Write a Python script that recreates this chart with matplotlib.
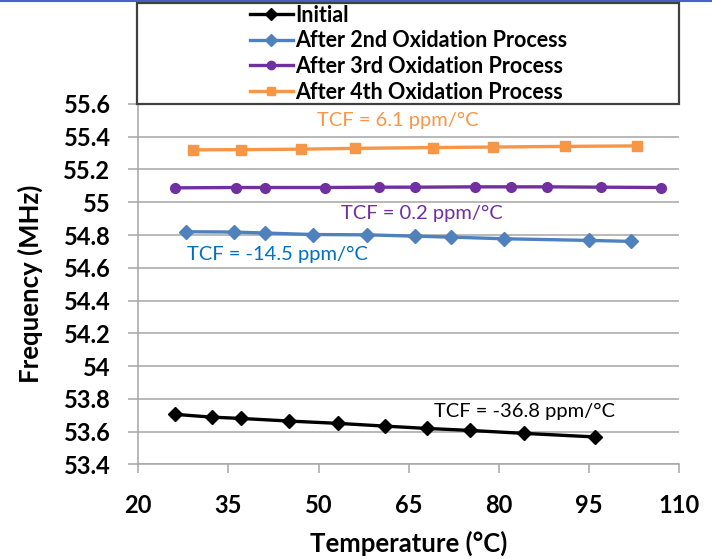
import matplotlib
matplotlib.use("Agg")
import matplotlib.pyplot as plt
from matplotlib.lines import Line2D
from matplotlib.patches import Rectangle

plt.rcParams['font.family'] = ['Lato', 'DejaVu Sans']

# Temperature sweeps (°C) and resonant frequency (MHz) for each stage
temp_initial = [26.1, 32.2, 37.1, 45.1, 53.2, 61.1, 68.0, 75.1, 84.1, 96.0]
freq_initial = [53.705, 53.688, 53.680, 53.664, 53.650, 53.633, 53.619, 53.607, 53.589, 53.567]

temp_ox2 = [28.0, 36.0, 41.1, 49.0, 58.1, 66.0, 72.0, 80.9, 94.9, 102.0]
freq_ox2 = [54.820, 54.818, 54.812, 54.803, 54.801, 54.793, 54.787, 54.777, 54.767, 54.761]

temp_ox3 = [26.1, 36.2, 41.1, 51.0, 60.1, 66.0, 76.0, 82.0, 88.0, 96.9, 107.0]
freq_ox3 = [55.088, 55.090, 55.090, 55.090, 55.092, 55.092, 55.094, 55.094, 55.094, 55.092, 55.090]

temp_ox4 = [29.1, 37.1, 47.0, 56.0, 69.1, 79.0, 91.0, 103.0]
freq_ox4 = [55.320, 55.321, 55.324, 55.329, 55.334, 55.337, 55.341, 55.344]

series_labels = ["Initial", "After 2nd Oxidation Process",
                 "After 3rd Oxidation Process", "After 4th Oxidation Process"]
tcf_labels = ["TCF = -36.8 ppm/°C", "TCF = -14.5 ppm/°C",
              "TCF = 0.2 ppm/°C", "TCF = 6.1 ppm/°C"]

x_ticks = [20, 35, 50, 65, 80, 95, 110]
y_ticks = [53.4, 53.6, 53.8, 54, 54.2, 54.4, 54.6, 54.8, 55, 55.2, 55.4, 55.6]

fig = plt.figure(figsize=(7.12, 5.59), dpi=100)
ax = fig.add_axes([0.1942, 0.1694, 0.7599, 0.6446])

c_black = "#000000"
c_blue = "#4F81BD"
c_purple = "#7030A0"
c_orange = "#F79646"

lw = 2.4
h1, = ax.plot(temp_initial, freq_initial, color=c_black, lw=lw, marker="D", ms=7.5, zorder=3)
h2, = ax.plot(temp_ox2, freq_ox2, color=c_blue, lw=lw, marker="D", ms=7.5, zorder=3)
h3, = ax.plot(temp_ox3, freq_ox3, color=c_purple, lw=lw, marker="o", ms=7, zorder=3)
h4, = ax.plot(temp_ox4, freq_ox4, color=c_orange, lw=lw, marker="s", ms=7, zorder=3)

ax.set_xlim(20, 110)
ax.set_ylim(53.4, 55.6)
ax.set_xticks(x_ticks)
ax.set_yticks(y_ticks)
ax.set_xticklabels([str(t) for t in x_ticks])
ax.set_yticklabels(["%g" % v for v in y_ticks])

ax.grid(axis="y", color="#A6A6A6", lw=1.1)
ax.set_axisbelow(True)
for s in ("top", "right"):
    ax.spines[s].set_visible(False)
for s in ("left", "bottom"):
    ax.spines[s].set_color("#A6A6A6")
    ax.spines[s].set_linewidth(1.1)

ax.tick_params(axis="x", direction="out", length=6.5, width=1.1, color="#A6A6A6",
               pad=15, labelsize=17)
ax.tick_params(axis="y", direction="out", length=7, width=1.1, color="#A6A6A6",
               pad=13, labelsize=17)
for lab in ax.get_xticklabels() + ax.get_yticklabels():
    lab.set_fontweight("bold")

ax.set_xlabel("Temperature (°C)", fontsize=18.5, fontweight="bold", va="center")
ax.xaxis.set_label_coords(0.5, -0.2184)
ax.set_ylabel("Frequency (MHz)", fontsize=18.5, fontweight="bold", va="center")
ax.yaxis.set_label_coords(-0.200, 0.5)

# TCF annotations
ax.text(84.3, 53.72, tcf_labels[0], color=c_black, fontsize=14.5, ha="center", va="center")
ax.text(43.2, 54.681, tcf_labels[1], color="#0070C0", fontsize=14.5, ha="center", va="center")
ax.text(67.2, 54.932, tcf_labels[2], color=c_purple, fontsize=14.5, ha="center", va="center")
ax.text(63.2, 55.50, tcf_labels[3], color=c_orange, fontsize=14.5, ha="center", va="center")

# Legend box above the plot area
fig.patches.append(Rectangle((0.1930, 0.8140), 0.7611, 0.1805, transform=fig.transFigure,
                             facecolor="white", edgecolor="#404040", lw=1.6, zorder=5))
leg = fig.legend([h1, h2, h3, h4], series_labels, loc="center",
                 bbox_to_anchor=(0.5735, 0.904), frameon=False, numpoints=1,
                 prop={"weight": "bold", "size": 15.5}, handlelength=2.0,
                 handletextpad=0.1, labelspacing=0.22, borderpad=0.1)
leg.set_zorder(6)
for lh in leg.legend_handles:
    lh.set_markersize(6)

# Thin accent line along the top edge
fig.add_artist(Line2D([0, 1], [0.998, 0.998], transform=fig.transFigure,
                      color="#4B5FC8", lw=1.5))

fig.savefig("out.png", dpi=100)
